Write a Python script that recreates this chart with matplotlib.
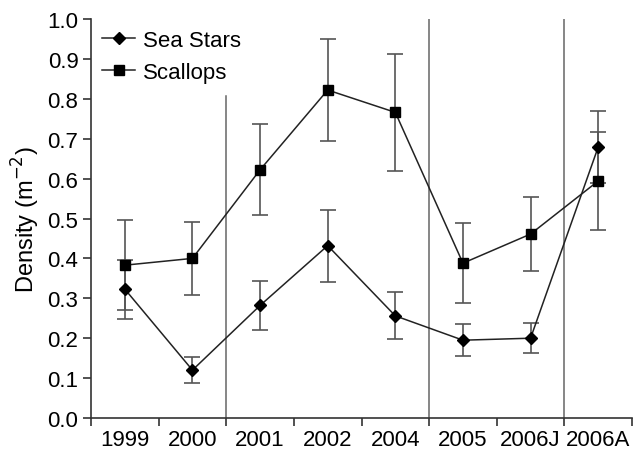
import matplotlib
matplotlib.use("Agg")
import matplotlib.pyplot as plt
import numpy as np

plt.rcParams['font.family'] = ['Liberation Sans', 'DejaVu Sans']

categories = ["1999", "2000", "2001", "2002", "2004", "2005", "2006J", "2006A"]
sea_stars = [0.323, 0.120, 0.282, 0.432, 0.256, 0.195, 0.200, 0.679]
sea_stars_err = [0.074, 0.033, 0.062, 0.090, 0.059, 0.040, 0.037, 0.090]
scallops = [0.383, 0.400, 0.622, 0.822, 0.766, 0.388, 0.461, 0.594]
scallops_err = [0.112, 0.092, 0.114, 0.128, 0.146, 0.100, 0.092, 0.124]
separators = [1.5, 4.5, 6.5]
separator_tops = [0.807, 1.0, 1.0]

fig = plt.figure(figsize=(6.38, 4.52), dpi=100)
ax = fig.add_axes([91/638, 1-419/452, (632-91)/638, (419-20)/452])

x = np.arange(len(categories))
ecol = '#555555'
ax.errorbar(x, scallops, yerr=scallops_err, fmt='none', ecolor=ecol,
            elinewidth=1.2, capsize=5.5, capthick=1.2, zorder=2)
ax.errorbar(x, sea_stars, yerr=sea_stars_err, fmt='none', ecolor=ecol,
            elinewidth=1.2, capsize=5.5, capthick=1.2, zorder=2)
ax.plot(x, sea_stars, color='#222222', lw=1.1, marker='D', ms=6,
        mfc='black', mec='black', label='Sea Stars', zorder=3)
ax.plot(x, scallops, color='#222222', lw=1.1, marker='s', ms=7.5,
        mfc='black', mec='black', label='Scallops', zorder=3)

for sx, top in zip(separators, separator_tops):
    ax.plot([sx, sx], [0, top], color='#666666', lw=1.1, zorder=1)

ax.set_xlim(-0.5, len(categories) - 0.5)
ax.set_ylim(0, 1.0)
ax.set_yticks(np.arange(0, 1.01, 0.1))
ax.set_yticklabels([f"{v:.1f}" for v in np.arange(0, 1.01, 0.1)])
ax.set_xticks(np.arange(-0.5, len(categories), 1.0))
ax.set_xticklabels([])
ax.set_xticks(x, minor=True)
ax.set_xticklabels(categories, minor=True)
ax.tick_params(axis='x', which='minor', length=0, pad=8, labelsize=16)
ax.tick_params(axis='x', which='major', length=6, width=1.2, color='#333333')
ax.tick_params(axis='y', length=6, width=1.2, color='#333333', labelsize=16, pad=3)

for s in ['top', 'right']:
    ax.spines[s].set_visible(False)
for s in ['left', 'bottom']:
    ax.spines[s].set_linewidth(1.2)
    ax.spines[s].set_color('#333333')

ax.set_ylabel('Density (m$^{-2}$)', fontsize=17, labelpad=4)

ax.legend(loc='upper left', bbox_to_anchor=(0.0, 1.0), frameon=False,
          fontsize=16, handlelength=1.5, handletextpad=0.35, labelspacing=0.5,
          borderaxespad=0.1)

fig.savefig('out.png', dpi=100)
